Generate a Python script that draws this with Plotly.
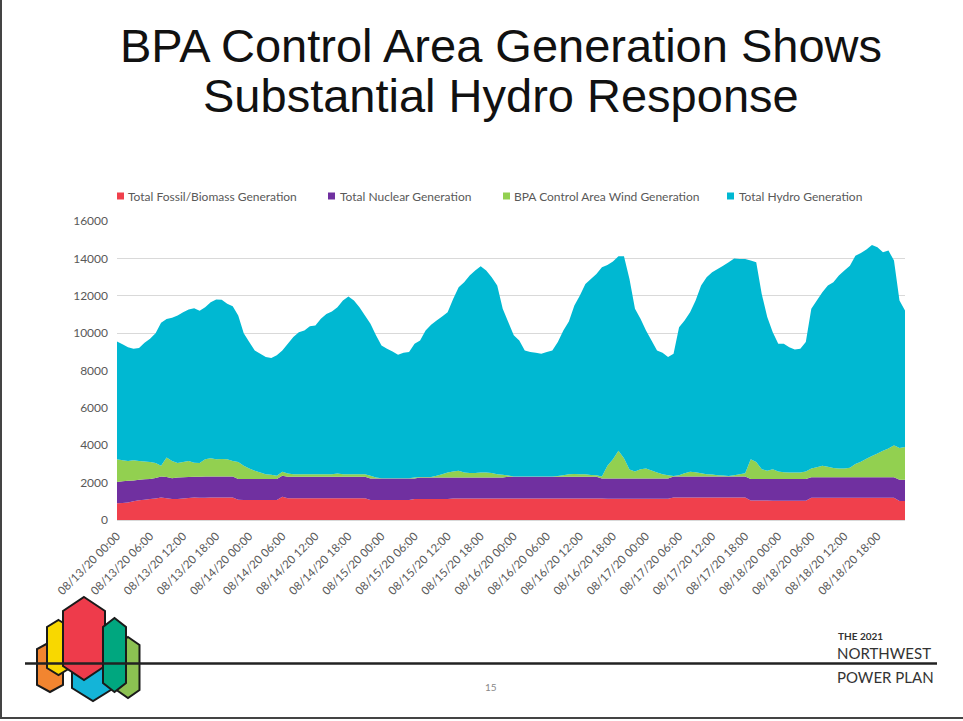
import pandas as pd
import plotly.graph_objects as go

# ---------------- data (MW, hourly from 08/13/20 00:00) ----------------
hours = pd.date_range("2020-08-13 00:00", periods=144, freq="h")

fossil = [890, 910, 940, 1000, 1060, 1090, 1120, 1150, 1210, 1170,
          1120, 1130, 1150, 1180, 1210, 1190, 1190, 1200, 1210, 1210,
          1210, 1200, 1090, 1070, 1070, 1070, 1070, 1070, 1070, 1070,
          1250, 1170, 1170, 1170, 1170, 1170, 1170, 1170, 1170, 1170,
          1170, 1170, 1170, 1170, 1170, 1170, 1070, 1070, 1070, 1070,
          1070, 1070, 1070, 1070, 1120, 1120, 1120, 1120, 1120, 1120,
          1120, 1150, 1150, 1150, 1150, 1150, 1150, 1150, 1150, 1150,
          1150, 1150, 1150, 1150, 1150, 1150, 1150, 1150, 1150, 1150,
          1150, 1150, 1150, 1150, 1150, 1150, 1150, 1150, 1150, 1140,
          1140, 1140, 1140, 1140, 1140, 1140, 1140, 1140, 1140, 1140,
          1140, 1210, 1210, 1210, 1210, 1210, 1210, 1210, 1210, 1210,
          1210, 1210, 1210, 1210, 1210, 1050, 1050, 1050, 1050, 1030,
          1030, 1030, 1030, 1030, 1030, 1030, 1190, 1190, 1190, 1190,
          1190, 1190, 1190, 1190, 1190, 1190, 1190, 1190, 1190, 1190,
          1190, 1190, 1020, 1020]

nuclear = [1150, 1160, 1160, 1120, 1090, 1090, 1080, 1100, 1120, 1130,
           1120, 1140, 1140, 1120, 1100, 1130, 1140, 1130, 1120, 1120,
           1120, 1130, 1100, 1120, 1120, 1120, 1120, 1120, 1120, 1120,
           1120, 1140, 1140, 1140, 1140, 1140, 1140, 1140, 1140, 1140,
           1140, 1140, 1140, 1140, 1140, 1140, 1150, 1150, 1150, 1150,
           1150, 1150, 1150, 1150, 1100, 1160, 1160, 1160, 1160, 1160,
           1160, 1130, 1130, 1130, 1130, 1130, 1130, 1130, 1130, 1130,
           1130, 1160, 1160, 1160, 1160, 1160, 1160, 1160, 1160, 1160,
           1160, 1160, 1160, 1160, 1160, 1160, 1160, 1160, 1070, 1080,
           1080, 1080, 1080, 1080, 1080, 1080, 1080, 1080, 1080, 1080,
           1080, 1120, 1120, 1120, 1120, 1120, 1120, 1120, 1120, 1120,
           1120, 1120, 1120, 1120, 1120, 1140, 1140, 1140, 1140, 1160,
           1160, 1160, 1160, 1160, 1160, 1160, 1100, 1100, 1100, 1100,
           1100, 1100, 1100, 1100, 1100, 1100, 1100, 1100, 1100, 1100,
           1100, 1100, 1130, 1130]

wind = [1210, 1130, 1060, 1080, 1010, 950, 900, 800, 570, 1040,
        920, 780, 810, 860, 760, 730, 920, 970, 920, 930,
        920, 830, 910, 710, 570, 440, 350, 260, 230, 180,
        210, 180, 140, 140, 140, 140, 140, 140, 140, 140,
        180, 140, 140, 140, 140, 140, 150, 60, 20, 20,
        20, 20, 20, 20, 60, 20, 20, 20, 90, 170,
        260, 320, 350, 260, 230, 230, 260, 260, 230, 170,
        140, 70, 20, 20, 20, 20, 20, 20, 20, 20,
        40, 80, 140, 150, 140, 140, 100, 80, 110, 680,
        1030, 1480, 1080, 480, 380, 500, 540, 430, 320, 230,
        180, 30, 70, 170, 250, 230, 170, 120, 110, 70,
        50, 30, 70, 120, 170, 1060, 910, 530, 440, 530,
        410, 370, 350, 350, 350, 410, 470, 530, 610, 560,
        490, 470, 470, 510, 700, 830, 990, 1130, 1270, 1410,
        1530, 1710, 1700, 1750]

hydro = [6300, 6200, 6090, 5960, 6040, 6350, 6600, 6950, 7650, 7420,
         7660, 7890, 8020, 8100, 8260, 8150, 8140, 8350, 8550, 8520,
         8320, 8280, 7840, 7100, 6760, 6440, 6360, 6270, 6250, 6440,
         6490, 6940, 7340, 7600, 7690, 7920, 7960, 8320, 8580, 8710,
         8900, 9290, 9510, 9290, 8940, 8490, 8130, 7600, 7100, 6920,
         6780, 6600, 6710, 6750, 7150, 7310, 7840, 8150, 8310, 8440,
         8580, 9230, 9830, 10180, 10570, 10840, 11040, 10810, 10480, 10100,
         8880, 8210, 7550, 7280, 6740, 6660, 6620, 6570, 6660, 6740,
         7170, 7750, 8170, 9020, 9560, 10180, 10490, 10780, 11190, 10750,
         10580, 10410, 10810, 10200, 8700, 8050, 7380, 6960, 6530, 6500,
         6320, 6540, 7920, 8180, 8540, 9180, 10050, 10540, 10820, 11030,
         11230, 11430, 11600, 11520, 11470, 10630, 10690, 9380, 8230, 7330,
         6830, 6870, 6710, 6590, 6620, 6920, 8540, 8920, 9290, 9700,
         9940, 10320, 10590, 10810, 11150, 11170, 11190, 11300, 11040, 10630,
         10600, 9880, 7890, 7310]

series_names = ["Total Fossil/Biomass Generation", "Total Nuclear Generation",
                "BPA Control Area Wind Generation", "Total Hydro Generation"]
series_colors = ["#f0404c", "#7030a0", "#92d050", "#00b8d2"]

tick_times = pd.date_range("2020-08-13 00:00", periods=24, freq="6h")
tick_labels = ["08/13/20 00:00", "08/13/20 06:00", "08/13/20 12:00", "08/13/20 18:00",
               "08/14/20 00:00", "08/14/20 06:00", "08/14/20 12:00", "08/14/20 18:00",
               "08/15/20 00:00", "08/15/20 06:00", "08/15/20 12:00", "08/15/20 18:00",
               "08/16/20 00:00", "08/16/20 06:00", "08/16/20 12:00", "08/16/20 18:00",
               "08/17/20 00:00", "08/17/20 06:00", "08/17/20 12:00", "08/17/20 18:00",
               "08/18/20 00:00", "08/18/20 06:00", "08/18/20 12:00", "08/18/20 18:00"]

title_lines = ["BPA Control Area Generation Shows", "Substantial Hydro Response"]

# ---------------- layout geometry (pixels) ----------------
W, H = 963, 721
PL, PR, PT, PB = 117, 905, 221, 520


def px(X):
    return (X - PL) / (PR - PL)


def py(Y):
    return (PB - Y) / (PB - PT)


fig = go.Figure()
for name, vals, col in zip(series_names, [fossil, nuclear, wind, hydro], series_colors):
    fig.add_trace(go.Scatter(x=hours, y=vals, name=name, stackgroup="one",
                             mode="none", fillcolor=col, showlegend=False))

FONT = "Lato, 'Open Sans', sans-serif"
GRAY = "#595959"

shapes = []
annotations = []

# custom legend
legend_pos = [(117, 126), (328, 338), (503, 512), (727, 737)]
for (sx, tx), name, col in zip(legend_pos, series_names, series_colors):
    shapes.append(dict(type="rect", xref="paper", yref="paper",
                       x0=px(sx), x1=px(sx + 7), y0=py(192.5), y1=py(199.5),
                       fillcolor=col, line=dict(width=0)))
    annotations.append(dict(xref="paper", yref="paper", x=px(tx), y=py(196),
                            xanchor="left", yanchor="middle", showarrow=False,
                            text=name, font=dict(family=FONT, size=12, color=GRAY)))

# title (two lines)
for line, ymid in zip(title_lines, [46, 95]):
    annotations.append(dict(xref="paper", yref="paper", x=px(501), y=py(ymid),
                            xanchor="center", yanchor="middle", showarrow=False,
                            text=line,
                            font=dict(family="'Liberation Sans', Arial, sans-serif",
                                      size=47, color="#111111")))

# logo hexagons
def hexpath(cx, w, top, bot, s):
    pts = [(cx, top), (cx + w, top + s), (cx + w, bot - s), (cx, bot),
           (cx - w, bot - s), (cx - w, top + s)]
    return "M " + " L ".join(f"{px(x):.5f},{py(y):.5f}" for x, y in pts) + " Z"


hexes = [
    (128, 11.5, 637, 698, 8, "#8cc152"),
    (93, 21, 622, 701, 13, "#14b4d8"),
    (50, 13, 642, 692, 7, "#f28530"),
    (58.5, 11.5, 620, 675, 7, "#f8d800"),
    (84, 21, 597, 680, 14, "#ee3b4b"),
    (114.5, 11.5, 618, 692, 9, "#00a77f"),
]
for cx, w, top, bot, s, col in hexes:
    shapes.append(dict(type="path", xref="paper", yref="paper", path=hexpath(cx, w, top, bot, s),
                       fillcolor=col, line=dict(color="#1a1a1a", width=2)))

# footer line
shapes.append(dict(type="line", xref="paper", yref="paper", x0=px(25), x1=px(937),
                   y0=py(663.5), y1=py(663.5), line=dict(color="#222222", width=2.5)))
# slide border (left and bottom)
shapes.append(dict(type="line", xref="paper", yref="paper", x0=px(1), x1=px(1),
                   y0=py(0), y1=py(718), line=dict(color="#444444", width=2)))
shapes.append(dict(type="line", xref="paper", yref="paper", x0=px(0), x1=px(963),
                   y0=py(718), y1=py(718), line=dict(color="#444444", width=2)))

# footer texts
annotations += [
    dict(xref="paper", yref="paper", x=px(836), y=py(636), xanchor="left", yanchor="middle",
         showarrow=False, text="<b>THE 2021</b>", font=dict(family=FONT, size=10, color="#333333")),
    dict(xref="paper", yref="paper", x=px(835), y=py(653), xanchor="left", yanchor="middle",
         showarrow=False, text="NORTHWEST", font=dict(family=FONT, size=15, color="#333333")),
    dict(xref="paper", yref="paper", x=px(835), y=py(677), xanchor="left", yanchor="middle",
         showarrow=False, text="POWER PLAN", font=dict(family=FONT, size=15, color="#333333")),
    dict(xref="paper", yref="paper", x=px(491), y=py(687), xanchor="center", yanchor="middle",
         showarrow=False, text="15", font=dict(family=FONT, size=10, color="#888888")),
]

fig.update_layout(
    width=W, height=H,
    margin=dict(l=PL, r=W - PR, t=PT, b=H - PB, pad=0),
    paper_bgcolor="white", plot_bgcolor="white",
    showlegend=False,
    shapes=shapes, annotations=annotations,
    xaxis=dict(range=[hours[0], hours[-1]], tickvals=tick_times, ticktext=tick_labels,
               tickangle=-45, showgrid=False, zeroline=False, showline=True,
               linecolor="#d9d9d9", linewidth=1, ticks="", automargin=False,
               ticklabelstandoff=4,
               tickfont=dict(family=FONT, size=11.5, color=GRAY)),
    yaxis=dict(range=[0, 16000], dtick=2000, tickformat="d", showgrid=True, gridcolor="#d9d9d9",
               zeroline=False, showline=False, ticks="", automargin=False,
               ticklabelstandoff=8,
               tickfont=dict(family=FONT, size=12, color=GRAY)),
)

fig.write_html("out.html", config={"displayModeBar": False},
               post_script="document.body.style.margin='0';document.body.style.overflow='hidden';")
